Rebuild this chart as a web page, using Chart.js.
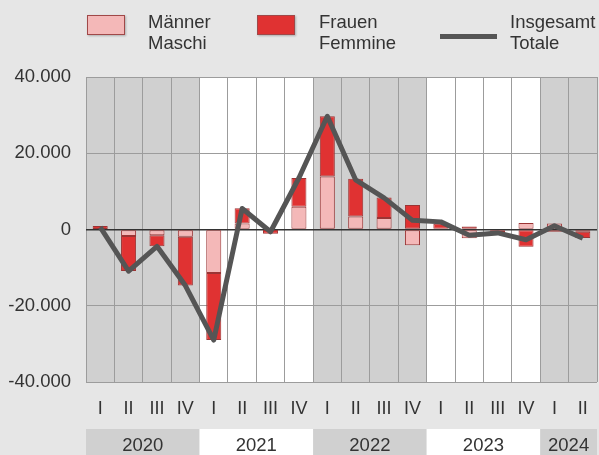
<!DOCTYPE html>
<html>
<head>
<meta charset="utf-8">
<script src="https://cdn.jsdelivr.net/npm/chart.js@4/dist/chart.umd.min.js"></script>
<style>
  html, body { margin:0; padding:0; background:#e6e6e6; }
  #wrap { position:relative; width:599px; height:455px; overflow:hidden; font-family:"Liberation Sans", Arial, sans-serif; color:#333; }
  canvas { position:absolute; left:0; top:0; }
  .sw { position:absolute; width:38px; height:20px; box-sizing:border-box; border:1px solid #a04848; box-shadow:1px 1px 2px rgba(0,0,0,0.25); }
  .ln { position:absolute; width:57px; height:5px; background:#555; }
  .lt { position:absolute; font-size:18.5px; line-height:21px; color:#333; white-space:nowrap; }
</style>
</head>
<body>
<div id="wrap">
  <canvas id="c" width="599" height="455"></canvas>
  <div class="sw" style="left:87px;top:15px;background:#f4b8b8;"></div>
  <div class="lt" style="left:148px;top:11px;">Männer<br>Maschi</div>
  <div class="sw" style="left:257px;top:15px;background:#e03232;"></div>
  <div class="lt" style="left:319px;top:11px;">Frauen<br>Femmine</div>
  <div class="ln" style="left:440px;top:34px;"></div>
  <div class="lt" style="left:510px;top:11px;">Insgesamt<br>Totale</div>
</div>
<script>
// ---- data ----
const years = ['2020', '2021', '2022', '2023', '2024'];
const quartersPerYear = [4, 4, 4, 4, 2];
const quarterLabels = ['I','II','III','IV','I','II','III','IV','I','II','III','IV','I','II','III','IV','I','II'];
const maenner = [100, -1700, -1500, -1900, -11400, 1600, -100, 6000, 13900, 3400, 3000, -4100, 200, -2300, -400, 1700, 1600, -600];
const frauen  = [800, -9200, -2900, -12800, -17600, 4000, -1000, 7500, 15800, 9900, 5400, 6400, 1300, 800, -400, -4500, -600, -1600];
const insgesamt = [600, -10900, -4400, -14700, -29000, 5500, -600, 13500, 29700, 13000, 8300, 2400, 2000, -1500, -900, -2700, 1000, -2300];
const yTicks = [-40000, -20000, 0, 20000, 40000];

function fmt(v) {
  const s = String(Math.abs(v)).replace(/\B(?=(\d{3})+(?!\d))/g, '.');
  return (v < 0 ? '-' : '') + s;
}

const FONT = '"Liberation Sans", Arial, sans-serif';
const GREY = '#d0d0d0';

const bgPlugin = {
  id: 'bgPlugin',
  beforeDraw(chart) {
    const { ctx, chartArea: a, scales: { x } } = chart;
    ctx.save();
    ctx.fillStyle = '#e6e6e6';
    ctx.fillRect(0, 0, chart.width, chart.height);
    const w = (a.right - a.left) / quarterLabels.length;
    let idx = 0;
    quartersPerYear.forEach((n, yi) => {
      const x0 = x.getPixelForValue(idx) - w / 2;
      const x1 = x.getPixelForValue(idx + n - 1) + w / 2;
      const fill = yi % 2 === 0 ? GREY : '#ffffff';
      ctx.fillStyle = fill;
      ctx.fillRect(x0, a.top, x1 - x0, a.bottom - a.top);
      ctx.fillRect(x0, 429, x1 - x0, chart.height - 429);
      ctx.fillStyle = '#333';
      ctx.font = '18.5px ' + FONT;
      ctx.textAlign = 'center';
      ctx.textBaseline = 'middle';
      ctx.fillText(years[yi], (x0 + x1) / 2, 446);
      idx += n;
    });
    ctx.restore();
  }
};

new Chart(document.getElementById('c'), {
  type: 'bar',
  data: {
    labels: quarterLabels,
    datasets: [
      { type: 'line', label: 'Insgesamt / Totale', data: insgesamt, stack: 'line', order: 0,
        borderColor: '#555555', borderWidth: 5, pointRadius: 0, tension: 0, fill: false,
        borderJoinStyle: 'round', borderCapStyle: 'butt' },
      { label: 'Männer / Maschi', data: maenner, stack: 's', order: 1,
        backgroundColor: '#f4b8b8', borderColor: '#9b3434', borderWidth: 1, borderSkipped: false },
      { label: 'Frauen / Femmine', data: frauen, stack: 's', order: 1,
        backgroundColor: '#e03232', borderColor: '#9b3434', borderWidth: 1, borderSkipped: false }
    ]
  },
  options: {
    responsive: false,
    devicePixelRatio: 1,
    animation: false,
    layout: { padding: { top: 77, right: 2, left: 0, bottom: 0 } },
    plugins: { legend: { display: false }, tooltip: { enabled: false } },
    datasets: { bar: { categoryPercentage: 1, barPercentage: 0.53 } },
    scales: {
      x: {
        stacked: true,
        offset: true,
        grid: { offset: true, color: '#9c9c9c', lineWidth: 1, drawTicks: false },
        border: { display: false },
        ticks: { color: '#333', font: { family: FONT, size: 18 }, padding: 16, maxRotation: 0, autoSkip: false },
        afterFit(s) { s.height = 73; s.paddingLeft = 0; s.paddingRight = 0; }
      },
      y: {
        stacked: true,
        min: -40000, max: 40000,
        afterBuildTicks(s) { s.ticks = yTicks.map(v => ({ value: v })); },
        grid: {
          drawTicks: false,
          color: c => (c.tick && c.tick.value === 0 ? '#333333' : '#9c9c9c'),
          lineWidth: c => (c.tick && c.tick.value === 0 ? 1.5 : 1)
        },
        border: { display: false },
        ticks: { color: '#333', font: { family: FONT, size: 18.5 }, padding: 15, callback: v => fmt(v) },
        afterFit(s) { s.width = 86; s.paddingTop = 0; s.paddingBottom = 0; }
      }
    }
  },
  plugins: [bgPlugin]
});
</script>
</body>
</html>
